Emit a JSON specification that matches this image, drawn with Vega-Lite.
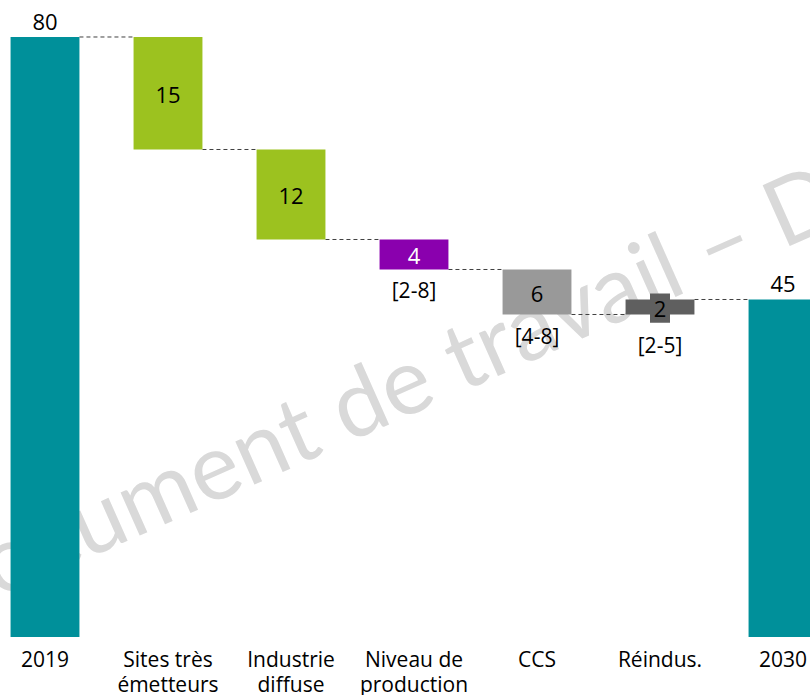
{
  "$schema": "https://vega.github.io/schema/vega-lite/v6.json",
  "width": 810,
  "height": 637,
  "autosize": {"type": "none"},
  "padding": {"left": 0, "top": 0, "right": 0, "bottom": 58},
  "background": "white",
  "config": {"view": {"stroke": null}, "font": "Open Sans"},
  "datasets": {
    "steps": [
      {"cat": "2019", "start": 0, "end": 80, "kind": "total", "lab": "80"},
      {"cat": "Sites très|émetteurs", "start": 65, "end": 80, "kind": "green", "lab": "15"},
      {"cat": "Industrie|diffuse", "start": 53, "end": 65, "kind": "green", "lab": "12"},
      {"cat": "Niveau de|production", "start": 49, "end": 53, "kind": "niveau", "lab": "4"},
      {"cat": "CCS", "start": 43, "end": 49, "kind": "ccs", "lab": "6"},
      {"cat": "Réindus.", "start": 43, "end": 45, "kind": "reindus", "lab": "2"},
      {"cat": "2030", "start": 0, "end": 45, "kind": "total", "lab": "45"}
    ],
    "links": [
      {"from": "2019", "to": "Sites très|émetteurs", "level": 80},
      {"from": "Sites très|émetteurs", "to": "Industrie|diffuse", "level": 65},
      {"from": "Industrie|diffuse", "to": "Niveau de|production", "level": 53},
      {"from": "Niveau de|production", "to": "CCS", "level": 49},
      {"from": "CCS", "to": "Réindus.", "level": 43},
      {"from": "Réindus.", "to": "2030", "level": 45}
    ],
    "box": [
      {"cat": "Réindus.", "lo": 41.9, "hi": 45.8}
    ],
    "ranges": [
      {"cat": "Niveau de|production", "low": 49.2, "r": "[2-8]"},
      {"cat": "CCS", "low": 43, "r": "[4-8]"},
      {"cat": "Réindus.", "low": 41.9, "r": "[2-5]"}
    ],
    "wm": [
      {"cat": "2019", "v": 7.9, "t": "Document de travail – Document de travail"}
    ]
  },
  "layer": [
    {
      "data": {"name": "wm"},
      "mark": {"type": "text", "font": "Lato", "fontSize": 93, "angle": -24, "align": "left", "baseline": "alphabetic", "dx": -122, "color": "#D9D9D9"},
      "encoding": {
        "x": {"field": "cat", "type": "nominal",
          "scale": {"domain": ["2019", "Sites très|émetteurs", "Industrie|diffuse", "Niveau de|production", "CCS", "Réindus.", "2030"], "range": [-16.5, 844.5], "paddingInner": 0.44, "paddingOuter": 0.22},
          "axis": {"title": null, "domain": false, "ticks": false, "labelAngle": 0, "labelFontSize": 21, "labelColor": "#000000", "labelPadding": 12, "labelLineHeight": 25, "labelExpr": "split(datum.label, '|')", "labelBaseline": "top"}},
        "y": {"field": "v", "type": "quantitative", "scale": {"domain": [0, 84.933], "nice": false, "zero": false}, "axis": null},
        "text": {"field": "t"}
      }
    },
    {
      "data": {"name": "links"},
      "mark": {"type": "rule", "strokeDash": [4, 3], "strokeWidth": 1, "color": "#404040"},
      "encoding": {
        "x": {"field": "from", "type": "nominal", "bandPosition": 1},
        "x2": {"field": "to", "bandPosition": 0},
        "y": {"field": "level", "type": "quantitative"}
      }
    },
    {
      "data": {"name": "steps"},
      "mark": {"type": "bar"},
      "encoding": {
        "x": {"field": "cat", "type": "nominal"},
        "y": {"field": "start", "type": "quantitative"},
        "y2": {"field": "end"},
        "color": {"field": "kind", "type": "nominal", "legend": null,
          "scale": {"domain": ["total", "green", "niveau", "ccs", "reindus"], "range": ["#00909A", "#9CC21F", "#8A00AE", "#999999", "#5F5F5F"]}}
      }
    },
    {
      "data": {"name": "box"},
      "mark": {"type": "bar", "size": 20, "color": "#5F5F5F"},
      "encoding": {
        "x": {"field": "cat", "type": "nominal"},
        "y": {"field": "lo", "type": "quantitative"},
        "y2": {"field": "hi"}
      }
    },
    {
      "data": {"name": "steps"},
      "transform": [{"filter": "datum.kind !== 'total'"}, {"calculate": "(datum.start + datum.end) / 2", "as": "mid"}],
      "mark": {"type": "text", "fontSize": 22, "baseline": "middle", "align": "center", "dy": 3},
      "encoding": {
        "x": {"field": "cat", "type": "nominal"},
        "y": {"field": "mid", "type": "quantitative"},
        "text": {"field": "lab"},
        "color": {"condition": {"test": "datum.kind === 'niveau'", "value": "#FFFFFF"}, "value": "#000000"}
      }
    },
    {
      "data": {"name": "steps"},
      "transform": [{"filter": "datum.kind === 'total'"}],
      "mark": {"type": "text", "fontSize": 22, "baseline": "alphabetic", "align": "center", "dy": -7, "color": "#000000"},
      "encoding": {
        "x": {"field": "cat", "type": "nominal"},
        "y": {"field": "end", "type": "quantitative"},
        "text": {"field": "lab"}
      }
    },
    {
      "data": {"name": "ranges"},
      "mark": {"type": "text", "fontSize": 21, "baseline": "middle", "align": "center", "dy": 24, "color": "#000000"},
      "encoding": {
        "x": {"field": "cat", "type": "nominal"},
        "y": {"field": "low", "type": "quantitative"},
        "text": {"field": "r"}
      }
    }
  ]
}
